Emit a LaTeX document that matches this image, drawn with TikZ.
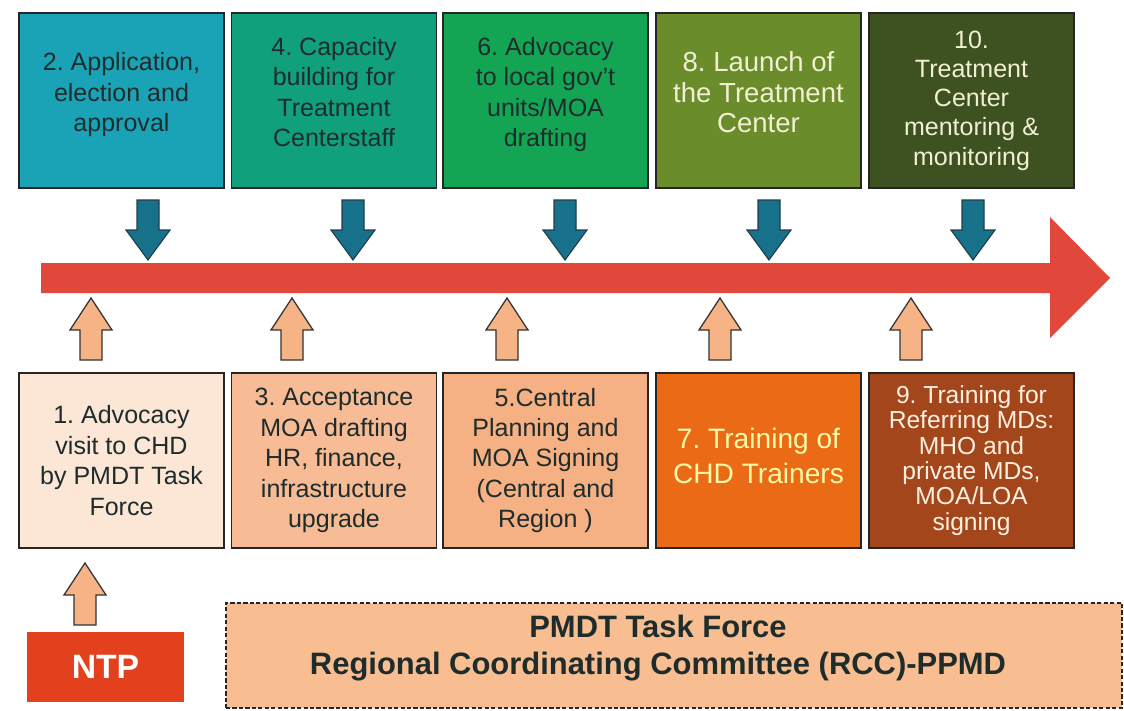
\documentclass[tikz,border=0pt]{standalone}
\usepackage{fontspec}
\setmainfont{Liberation Sans}
\usepackage{xcolor}
\definecolor{tealstep}{HTML}{1AA3B6}
\definecolor{seastep}{HTML}{11A07C}
\definecolor{greenstep}{HTML}{14A554}
\definecolor{olivestep}{HTML}{6A8C2B}
\definecolor{darkolive}{HTML}{3E5221}
\definecolor{paleorange}{HTML}{FCE6D6}
\definecolor{peachstep}{HTML}{F7BB95}
\definecolor{apricot}{HTML}{F5B083}
\definecolor{orangestep}{HTML}{EA6A16}
\definecolor{rust}{HTML}{A4461C}
\definecolor{downfill}{HTML}{17718A}
\definecolor{downline}{HTML}{1F3F4A}
\definecolor{upfill}{HTML}{F6B386}
\definecolor{timeline}{HTML}{E1473B}
\definecolor{ntpred}{HTML}{E3401E}
\definecolor{rccfill}{HTML}{F8BD90}
\definecolor{darktext}{HTML}{1E2C2C}
\definecolor{lighttext}{HTML}{F2F0D2}
\frenchspacing

\begin{document}
\begin{tikzpicture}[x=0.025cm,y=-0.025cm,
		stage/.style={draw=black!85,line width=0.9pt,minimum width=5.125cm,minimum height=4.375cm,
			inner sep=0pt,align=center,font=\fontsize{17.8}{21.6}\selectfont},
		raised/.style={text depth=12pt},
		downarrow/.pic={\draw[line width=0.8pt,draw=downline,fill=downfill]
			(-11,0) -- (-11,30) -- (-22,30) -- (0,60) -- (22,30) -- (11,30) -- (11,0) -- cycle;},
		uparrow/.pic={\draw[line width=0.9pt,draw=black!80,fill=upfill]
			(0,0) -- (21,32) -- (11,32) -- (11,62) -- (-11,62) -- (-11,32) -- (-21,32) -- cycle;}]
		\useasboundingbox[fill=white] (0,0) rectangle (1124,710);
		\fill[timeline] (41,263) -- (1050,263) -- (1050,217) -- (1110,278) -- (1050,338) -- (1050,293) -- (41,293) -- cycle;
		\node[stage,raised,fill=tealstep,text=darktext] (s2) at (121.5,100.5) {2. Application,\\election and\\approval};
		\node[stage,raised,fill=seastep,text=darktext] (s4) at (334,100.5) {4. Capacity\\building for\\Treatment\\Centerstaff};
		\node[stage,raised,fill=greenstep,text=darktext] (s6) at (545.5,100.5) {6. Advocacy\\to local gov't\\units/MOA\\drafting};
		\node[stage,raised,fill=olivestep,text=lighttext,font=\fontsize{19.6}{21.6}\selectfont] (s8) at (758.5,100.5) {8. Launch of\\the Treatment\\Center};
		\node[stage,fill=darkolive,text=lighttext,font=\fontsize{17.8}{20.8}\selectfont] (s10) at (971.5,100.5) {10.\\Treatment\\Center\\mentoring \&\\monitoring};
		\node[stage,fill=paleorange,text=darktext] (s1) at (121.5,460.5) {1. Advocacy\\visit to CHD\\by PMDT Task\\Force};
		\node[stage,fill=peachstep,text=darktext] (s3) at (334,460.5) {3. Acceptance\\MOA drafting\\HR, finance,\\infrastructure\\upgrade};
		\node[stage,fill=apricot,text=darktext] (s5) at (545.5,460.5) {5.Central\\Planning and\\MOA Signing\\(Central and\\Region )};
		\node[stage,fill=orangestep,text=yellow!35,text depth=7pt,font=\fontsize{20}{25}\selectfont] (s7) at (758.5,460.5) {7. Training of\\CHD Trainers};
		\node[stage,fill=rust,text=orange!12,font=\fontsize{17.5}{18}\selectfont] (s9) at (971.5,460.5) {9. Training for\\Referring MDs:\\MHO and\\private MDs,\\MOA/LOA\\signing};
		\foreach \x in {148,353,565,769,973}
			\pic at (\x,200) {downarrow};
		\foreach \x in {91,292,507,720,911}
			\pic at (\x,298) {uparrow};
		\node[fill=ntpred,text=white,minimum width=3.925cm,minimum height=1.75cm,font=\fontsize{24}{28}\bfseries] (ntp) at (105.5,667) {NTP};
		\pic at (85,563) {uparrow};
		\node[draw=black!85,dash pattern=on 3pt off 1.6pt,line width=1.1pt,fill=rccfill,
			minimum width=22.4cm,minimum height=2.625cm] (rcc) at (674,655.5) {};
		\node[text=darktext,align=center,font=\fontsize{22}{26}\bfseries] (rcctext) at (658,648)
			{PMDT Task Force\\Regional Coordinating Committee (RCC)-PPMD};
\end{tikzpicture}
\end{document}
